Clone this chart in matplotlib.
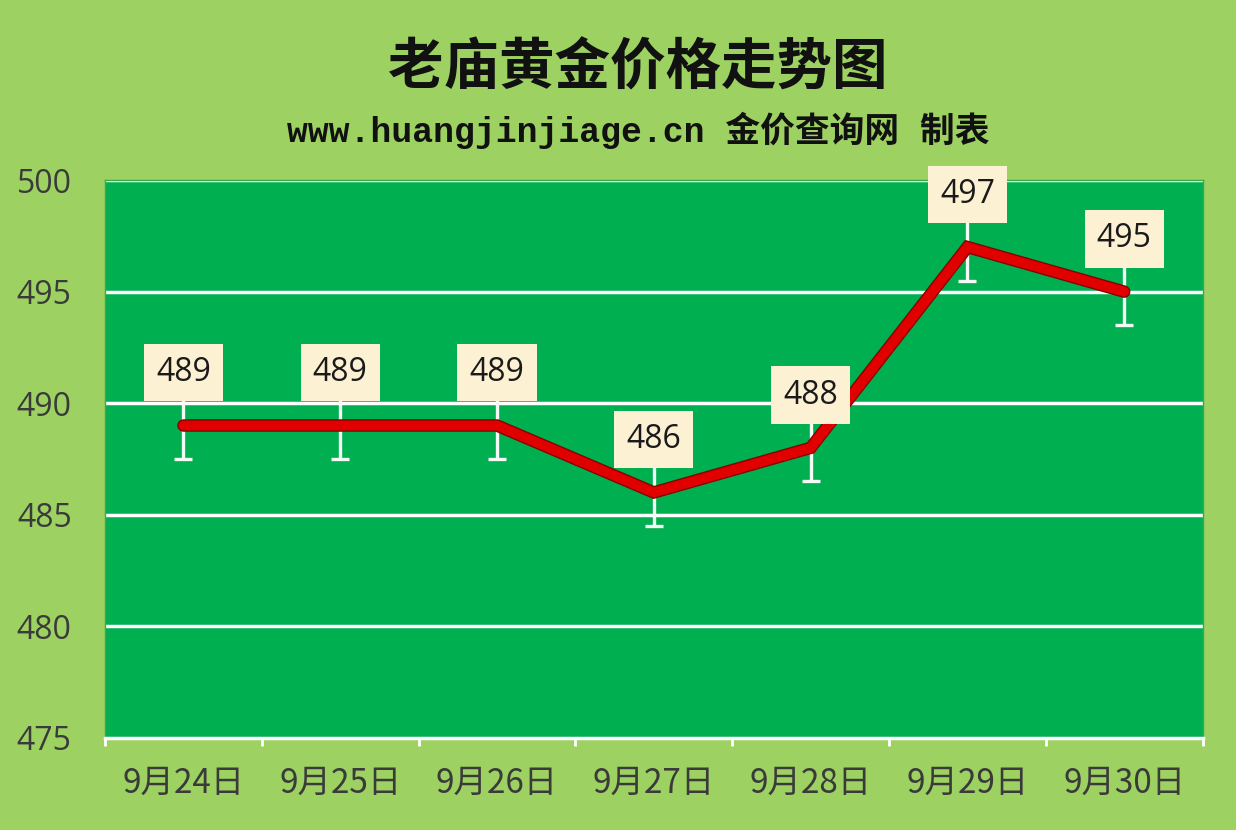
import numpy as np
import matplotlib.pyplot as plt
import matplotlib.patheffects as pe

plt.rcParams['font.family'] = ['Noto Sans CJK SC', 'DejaVu Sans']

dates = ['9月24日', '9月25日', '9月26日', '9月27日', '9月28日', '9月29日', '9月30日']
prices = [489, 489, 489, 486, 488, 497, 495]
err = [1.5, 1.5, 1.5, 1.5, 1.5, 1.5, 1.5]
yticks = [475, 480, 485, 490, 495, 500]

bg = '#9DD161'
plot_bg = '#00AF50'

fig = plt.figure(figsize=(12.36, 8.30), dpi=100)
fig.patch.set_facecolor(bg)
ax = fig.add_axes([0.085, 0.111, 0.888, 0.672])
ax.set_facecolor(plot_bg)

x = np.arange(len(dates))

for v in yticks[1:]:
    ax.axhline(v, color='white', lw=2.5, zorder=1)

ax.errorbar(x, prices, yerr=err, fmt='none', ecolor='#f4fbf6', elinewidth=2.4,
            capsize=6.5, capthick=2.4, zorder=2)
ax.plot(x, prices, color='#E00000', lw=7, solid_capstyle='round',
        solid_joinstyle='miter', zorder=3,
        path_effects=[pe.Stroke(linewidth=9, foreground='#8a0000'), pe.Normal()])

for xi, p in zip(x, prices):
    ax.annotate(str(p), (xi, p), xytext=(0, 38), textcoords='offset points',
                ha='center', va='center', fontsize=23, color='#1a1a1a',
                fontfamily=['Open Sans', 'DejaVu Sans'], zorder=5,
                bbox=dict(boxstyle='square,pad=0.38', fc='#FDF1D3', ec='none'))

ax.set_xlim(-0.5, len(dates) - 0.5)
ax.set_ylim(475, 500)
ax.set_yticks(yticks)
ax.set_yticklabels([str(v) for v in yticks], fontsize=23, color='#3a3a3a',
                   fontfamily=['Open Sans', 'DejaVu Sans'])
ax.tick_params(axis='y', length=0, pad=24)

ax.set_xticks(x)
ax.set_xticklabels(dates, fontsize=24, color='#3a3a3a')
ax.tick_params(axis='x', which='major', length=0, pad=20)
ax.set_xticks(np.arange(-0.5, len(dates)), minor=True)
ax.tick_params(axis='x', which='minor', length=6, width=2, color='white', direction='out')

for s in ['top', 'right', 'left']:
    ax.spines[s].set_color('#3fa84a')
    ax.spines[s].set_linewidth(1)
ax.spines['bottom'].set_color('white')
ax.spines['bottom'].set_linewidth(2.5)

fig.text(0.516, 0.918, '老庙黄金价格走势图', ha='center', va='center', fontsize=40,
         fontweight='bold', color='#111111')
fig.text(0.516, 0.843, 'www.huangjinjiage.cn 金价查询网 制表', ha='center', va='center',
         fontsize=25, fontweight='bold', color='#111111',
         fontfamily=['Liberation Mono', 'Noto Sans CJK SC'])

fig.savefig('out.png', dpi=100, facecolor=bg)
